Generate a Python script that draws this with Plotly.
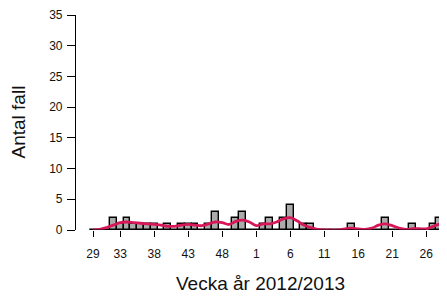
import plotly.graph_objects as go

# ISO weeks 29/2012 .. 28/2013
weeks = list(range(29, 53)) + list(range(1, 29))
counts = [0, 0, 0, 2, 1, 2, 1, 1, 1, 1, 0, 1, 0, 1, 1, 1, 0, 1, 3, 0, 0, 2, 3, 0,
          0, 1, 2, 0, 2, 4, 0, 1, 1, 0, 0, 0, 0, 0, 1, 0, 0, 0, 0, 2, 0, 0, 0, 1, 0, 0, 1, 2]
trend = [0.0, 0.1, 0.4, 0.8, 1.2, 1.3, 1.2, 1.1, 1.0, 0.9, 0.8, 0.6, 0.6, 0.8, 0.9, 0.8, 0.7, 1.0,
         1.3, 1.2, 0.9, 1.4, 1.6, 1.3, 0.7, 1.0, 1.0, 1.3, 1.8, 2.0, 1.5, 0.8, 0.4, 0.1, 0.0, 0.0,
         0.0, 0.2, 0.3, 0.2, 0.1, 0.3, 0.8, 1.0, 0.7, 0.3, 0.1, 0.2, 0.2, 0.2, 0.6, 1.0]
tick_weeks = [29, 33, 38, 43, 48, 1, 6, 11, 16, 21, 26]
y_ticks = [0, 5, 10, 15, 20, 25, 30, 35]

idx = list(range(len(weeks)))
tick_idx = [weeks.index(w) for w in tick_weeks]

fig = go.Figure()
fig.add_trace(go.Bar(x=idx, y=counts, width=1.0,
                     marker=dict(color="#ABABAB", line=dict(color="black", width=1.4)),
                     hoverinfo="skip"))
fig.add_trace(go.Scatter(x=idx, y=trend, mode="lines",
                         line=dict(color="#D8175A", width=2.8, shape="spline"),
                         hoverinfo="skip"))
fig.add_shape(type="line", xref="x", yref="y", x0=tick_idx[0], x1=tick_idx[-1], y0=0, y1=0,
              line=dict(color="black", width=1.2))

# page body has an 8px margin, so the figure is placed at (8, 8)
fig.update_layout(
    width=439, height=290,
    margin=dict(l=68, r=2, t=7, b=68),
    paper_bgcolor="white", plot_bgcolor="white",
    showlegend=False, bargap=0,
    font=dict(family="Liberation Sans, Arial, sans-serif", color="#111111"),
)
fig.update_xaxes(range=[-2.5, 51.76], tickmode="array", tickvals=tick_idx,
                 ticktext=[str(w) for w in tick_weeks], ticks="outside", ticklen=6,
                 tickcolor="black", tickwidth=1.2, showline=False, showgrid=False,
                 zeroline=False, tickfont=dict(size=12), automargin=False,
                 ticklabelstandoff=7)
fig.update_yaxes(range=[0, 35], tickmode="array", tickvals=y_ticks, ticks="outside",
                 ticklen=8, tickcolor="black", tickwidth=1.2, showline=True,
                 linecolor="black", linewidth=1.2, showgrid=False, zeroline=False,
                 tickfont=dict(size=12), automargin=False, ticklabelstandoff=2,
                 ticklabeloverflow="allow")

fig.add_annotation(text="Vecka år 2012/2013", xref="paper", yref="paper",
                   x=0.5, y=-53 / 215, xanchor="center", yanchor="middle",
                   showarrow=False, font=dict(size=19))
fig.add_annotation(text="Antal fall", xref="paper", yref="paper",
                   x=(18 - 76) / 369, y=0.5, xanchor="center", yanchor="middle",
                   textangle=-90, showarrow=False, font=dict(size=19))

fig.write_html("out.html")
